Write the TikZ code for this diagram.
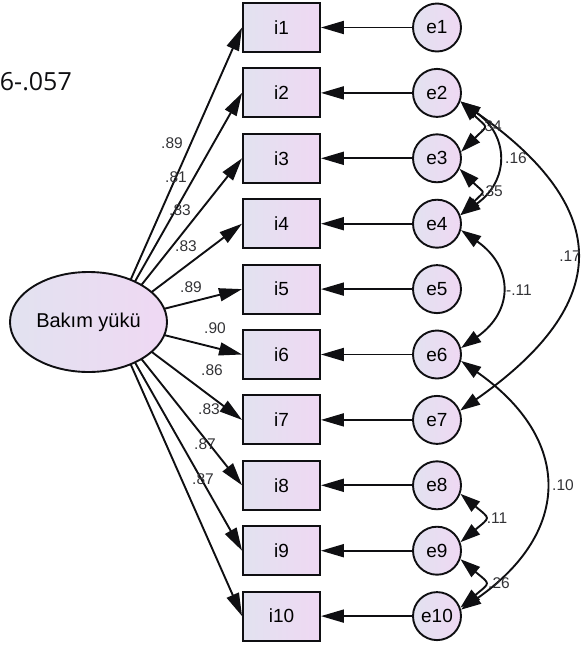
\documentclass[tikz,border=0pt]{standalone}
\usepackage{fontspec}
\setmainfont{Liberation Sans}
\newfontfamily\notefont{Open Sans}
\usetikzlibrary{arrows.meta,shapes.geometric}

\definecolor{fillL}{RGB}{226,226,240}
\definecolor{fillR}{RGB}{239,216,243}
\definecolor{ink}{RGB}{15,15,18}

\tikzset{
  shadefill/.style={left color=fillL, right color=fillR},
  obs/.style={draw=ink, line width=1.9pt, shadefill, minimum width=77pt,
    minimum height=49pt, inner sep=0pt, font=\fontsize{19}{19}\selectfont},
  err/.style={circle, draw=ink, line width=1.9pt, shadefill, minimum size=48pt,
    inner sep=0pt, font=\fontsize{19}{19}\selectfont},
  lat/.style={ellipse, draw=ink, line width=1.9pt, shadefill, minimum width=157pt,
    minimum height=100pt, inner sep=0pt, font=\fontsize{20}{20}\selectfont},
  regpath/.style={line width=1.9pt, draw=ink,
    -{Triangle[length=23pt,width=13pt]}},
  covpath/.style={line width=1.9pt, draw=ink,
    {Triangle[length=20pt,width=13pt]}-{Triangle[length=20pt,width=13pt]}},
  coef/.style={inner sep=0pt, text=ink!85, font=\fontsize{15.5}{15.5}\selectfont},
}

\begin{document}
\begin{tikzpicture}[x=1pt,y=-1pt]
\useasboundingbox (0,0) rectangle (582,646);

% stray fit-index fragment at the upper left
\node[anchor=base east, inner sep=0pt, text=ink, font=\notefont\fontsize{25}{25}\selectfont]
  (fitnote) at (72,90) {6-.057};

% common origin of the loading paths (hidden under the factor ellipse)
\coordinate (hub) at (112,322);

% indicators and their error terms
\foreach \k in {1,...,10} {
  \pgfmathsetmacro{\yy}{27.5+65.4*(\k-1)}
  \node[obs] (i\k) at (281.5,\yy) {i\k};
  \node[err] (e\k) at (437,\yy) {e\k};
  \draw[regpath] (e\k) -- (i\k);
  \draw[regpath] (hub) -- (i\k.west);
}

% latent factor, drawn over the start of the loading paths
\node[lat] (lat) at (88.5,322) {Bakım yükü};

% standardized loadings
\node[coef] (l1)  at (172,143) {.89};
\node[coef] (l2)  at (176,177) {.81};
\node[coef] (l3)  at (180,210) {.83};
\node[coef] (l4)  at (186,246) {.83};
\node[coef] (l5)  at (191,287) {.89};
\node[coef] (l6)  at (215,328) {.90};
\node[coef] (l7)  at (212,370) {.86};
\node[coef] (l8)  at (209,409) {.83};
\node[coef] (l9)  at (205,444) {.87};
\node[coef] (l10) at (203,479) {.87};

% error covariances
\draw[covpath] (e2.-20) to[out=-45,in=45,looseness=2.0] (e3.15);
\draw[covpath] (e3.-25) to[out=-45,in=45,looseness=2.0] (e4.20);
\draw[covpath] (e2.-20) to[out=-35,in=35,looseness=1.35] (e4.20);
\draw[covpath] (e2.-20) to[out=-35,in=35,looseness=1.55] (e7.22);
\draw[covpath] (e4.-15) to[out=-35,in=35,looseness=1.4] (e6.15);
\draw[covpath] (e6.-15) to[out=-35,in=35,looseness=1.4] (e10.15);
\draw[covpath] (e8.-20) to[out=-40,in=40,looseness=2.1] (e9.20);
\draw[covpath] (e9.-20) to[out=-40,in=40,looseness=2.1] (e10.20);

% covariance values
\node[coef] (c23)  at (491,126) {.34};
\node[coef] (c24)  at (516,158) {.16};
\node[coef] (c34)  at (492,191) {.35};
\node[coef, anchor=east] (c27) at (581,256) {.17};
\node[coef] (c46)  at (519,290) {-.11};
\node[coef] (c610) at (563,485) {.10};
\node[coef] (c89)  at (497,518) {.11};
\node[coef] (c910) at (499,583) {.26};
\end{tikzpicture}
\end{document}
